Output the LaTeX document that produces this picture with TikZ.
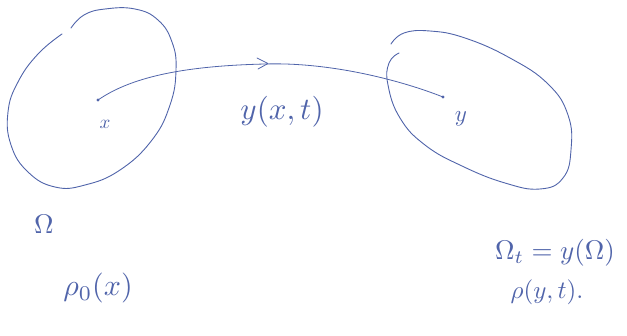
\documentclass[tikz,border=0pt]{standalone}
\usepackage{graphicx}
\definecolor{ink}{RGB}{80,100,170}
\begin{document}
\begin{tikzpicture}[x=1pt,y=-1pt,
  pen/.style={draw=ink,line width=0.9pt,line cap=round,line join=round},
  lbl/.style={text=ink,inner sep=0pt},
  dotmark/.style={circle,fill=ink,inner sep=0pt,minimum size=3.4pt}]
\useasboundingbox (0,0) rectangle (627,335);
% left region Omega
\draw[pen] plot[smooth,tension=0.75] coordinates {(71,28) (84,15) (105,9) (135,9) (158,20) (172,42) (176,70) (170,105) (152,140) (120,170) (85,185) (55,187) (28,172) (11,145) (8,112) (18,82) (38,54) (62,34)};
% right region Omega_t
\draw[pen] plot[smooth,tension=0.75] coordinates {(391,44) (404,33) (430,31) (465,38) (510,58) (548,84) (568,115) (571,150) (563,178) (540,189) (505,183) (462,166) (425,145) (400,118) (388,85) (389,63) (399,53)};
% points
\node[dotmark] (src) at (98,100) {};
\node[dotmark] (dst) at (443,97) {};
\coordinate (mid) at (265,64);
% trajectory
\draw[pen,line width=0.8pt] (src.center) .. controls (130,78) and (180,66) .. (mid) .. controls (330,62) and (400,80) .. (dst.center);
\draw[pen,line width=0.8pt] (257,58) -- (268,63.5) -- (258,69);
% labels
\node[lbl] (xl) at (105,124) {\scalebox{1.9}{$x$}};
\node[lbl] (yxt) at (282,112) {\scalebox{3.1}{$y(x,t)$}};
\node[lbl] (yl) at (461,119) {\scalebox{2.3}{$y$}};
\node[lbl] (om) at (44,224) {\scalebox{2.7}{$\Omega$}};
\node[lbl] (rho0) at (98,288) {\scalebox{3.0}{$\rho_0(x)$}};
\node[lbl] (omt) at (555,253) {\scalebox{2.7}{$\Omega_t = y(\Omega)$}};
\node[lbl] (rhot) at (547,292) {\scalebox{2.5}{$\rho(y,t).$}};
\end{tikzpicture}
\end{document}
